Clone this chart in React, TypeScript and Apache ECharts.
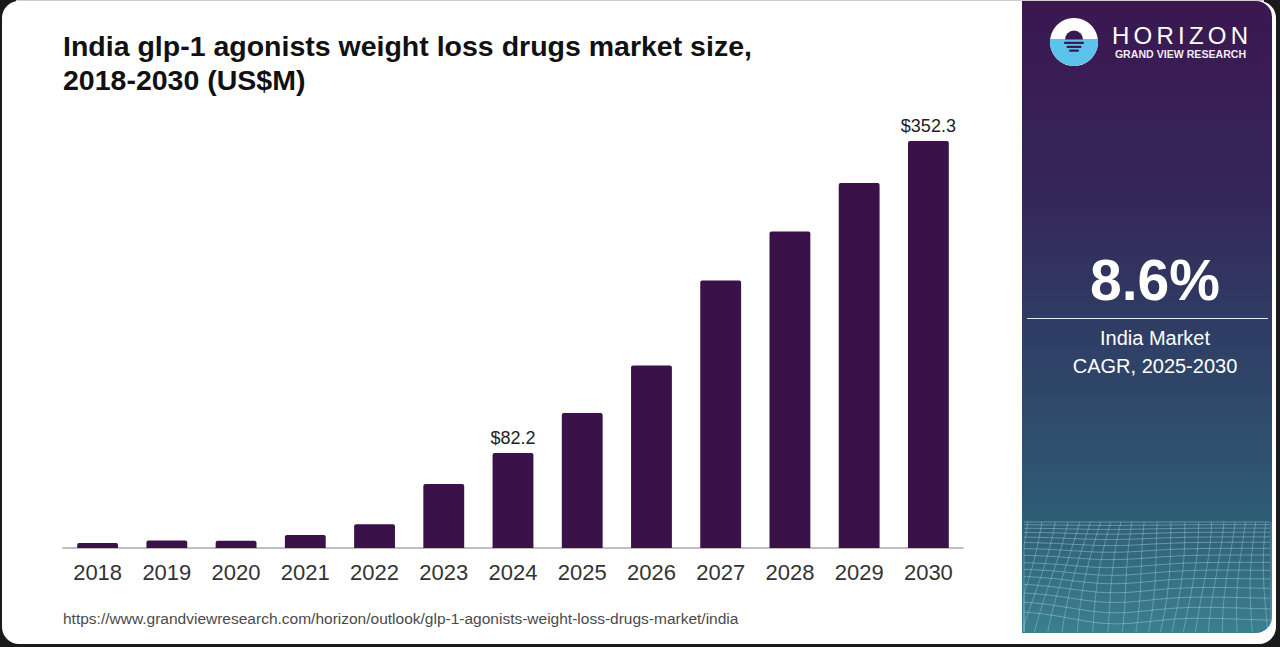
import React, { useEffect, useRef } from "react";
import * as echarts from "echarts";

const categories = ["2018", "2019", "2020", "2021", "2022", "2023", "2024", "2025", "2026", "2027", "2028", "2029", "2030"];
const values = [4.3, 6.4, 6.3, 11.3, 20.5, 55.4, 82.2, 116.8, 158.0, 231.7, 274.1, 316.0, 352.3];
const labeledYears = ["2024", "2030"];

const titleLines = ["India glp-1 agonists weight loss drugs market size,", "2018-2030 (US$M)"];
const sourceUrl = "https://www.grandviewresearch.com/horizon/outlook/glp-1-agonists-weight-loss-drugs-market/india";
const cagrValue = "8.6%";
const cagrLines = ["India Market", "CAGR, 2025-2030"];
const brandName = "HORIZON";
const brandSub = "GRAND VIEW RESEARCH";

const FONT = "'Liberation Sans', Arial, Helvetica, sans-serif";

function buildMesh(): any[] {
  const els: any[] = [];
  const x0 = 1024;
  const x1 = 1271;
  const yTop = 522;
  const yBot = 632;
  const stroke = "rgba(175,225,235,0.5)";
  for (let i = 0; i < 15; i++) {
    const base = yTop + i * 2.4 + i * i * 0.33;
    const pts: number[][] = [];
    for (let x = x0; x <= x1; x += 6) {
      const t = (x - x0) / (x1 - x0);
      const bump = Math.exp(-Math.pow((t - 0.35) / 0.22, 2)) * (i / 15) * 10;
      let y = base + bump - (i > 8 ? (1 - t) * (i - 8) * 1.5 : 0);
      y = Math.min(Math.max(y, yTop), yBot);
      pts.push([x, y]);
    }
    els.push({ type: "polyline", z: 2, shape: { points: pts }, style: { stroke, lineWidth: 0.8, fill: null }, silent: true });
  }
  for (let j = 0; j < 22; j++) {
    const xb = x0 + 4 + j * 12;
    const pts: number[][] = [];
    for (let y = yTop; y <= yBot; y += 5) {
      const s = (y - yTop) / (yBot - yTop);
      let x = xb - s * (30 - j * 1.4) + Math.sin(s * 3 + j * 0.5) * 4;
      x = Math.min(Math.max(x, x0), x1);
      pts.push([x, y]);
    }
    els.push({ type: "polyline", z: 2, shape: { points: pts }, style: { stroke, lineWidth: 0.7, fill: null }, silent: true });
  }
  return els;
}

function buildBrand(): any[] {
  const els: any[] = [];
  const widths = [0.722, 0.778, 0.722, 0.278, 0.611, 0.778, 0.722];
  const fs = 24;
  const start = 1112;
  const end = 1248;
  const total = widths.reduce((a, b) => a + b, 0) * fs;
  const gap = (end - start - total) / (widths.length - 1);
  let x = start;
  brandName.split("").forEach((ch, i) => {
    els.push({
      type: "text",
      z: 5,
      x,
      y: 35,
      style: { text: ch, fill: "#ffffff", font: `400 ${fs}px ${FONT}`, textAlign: "left", textVerticalAlign: "middle" },
    });
    x += widths[i] * fs + gap;
  });
  els.push({
    type: "text",
    z: 5,
    x: 1180.5,
    y: 54,
    style: { text: brandSub, fill: "#f0eaf4", font: `700 10.6px ${FONT}`, textAlign: "center", textVerticalAlign: "middle" },
  });
  els.push({ type: "circle", z: 5, shape: { cx: 1074, cy: 42, r: 24 }, style: { fill: "#ffffff" } });
  els.push({ type: "sector", z: 6, shape: { cx: 1074, cy: 42, r: 24, r0: 0, startAngle: -0.13, endAngle: Math.PI + 0.13 }, style: { fill: "#5cc3ea" } });
  els.push({ type: "rect", z: 6, shape: { x: 1050.3, y: 39, width: 47.4, height: 3.2 }, style: { fill: "#5cc3ea" } });
  els.push({ type: "sector", z: 7, shape: { cx: 1074, cy: 39.5, r: 9, r0: 0, startAngle: Math.PI, endAngle: Math.PI * 2 }, style: { fill: "#3a1850" } });
  els.push({ type: "rect", z: 7, shape: { x: 1064, y: 41.8, width: 20, height: 2.2, r: 1 }, style: { fill: "#3a1850" } });
  els.push({ type: "rect", z: 7, shape: { x: 1066.5, y: 45.8, width: 15, height: 2.2, r: 1 }, style: { fill: "#3a1850" } });
  els.push({ type: "rect", z: 7, shape: { x: 1069, y: 49.6, width: 10, height: 2.2, r: 1 }, style: { fill: "#3a1850" } });
  return els;
}

export default function App() {
  const ref = useRef<HTMLDivElement>(null);
  useEffect(() => {
    if (!ref.current) return;
    const chart = echarts.init(ref.current, undefined, { renderer: "svg" });
    const graphic: any[] = [
      { type: "rect", z: -10, shape: { x: 0, y: 0, width: 1280, height: 647 }, style: { fill: "#1a1a1a" }, silent: true },
      { type: "rect", z: -9, shape: { x: 16, y: 0, width: 1248, height: 3 }, style: { fill: "#cfcfcf" }, silent: true },
      { type: "rect", z: -8, shape: { x: 2, y: 1, width: 1274, height: 643, r: 17 }, style: { fill: "#ffffff" }, silent: true },
      {
        type: "rect",
        z: 1,
        shape: { x: 1022, y: 1, width: 250, height: 632, r: [0, 16, 16, 0] },
        style: {
          fill: new echarts.graphic.LinearGradient(0, 0, 0, 1, [
            { offset: 0, color: "#3b1750" },
            { offset: 0.3, color: "#352659" },
            { offset: 0.5, color: "#2f3b63" },
            { offset: 0.8, color: "#2e5a74" },
            { offset: 1, color: "#3b7f8f" },
          ]),
        },
        silent: true,
      },
      ...buildMesh(),
      ...buildBrand(),
      {
        type: "text", z: 5, x: 1155, y: 280,
        style: { text: cagrValue, fill: "#ffffff", font: `700 57px ${FONT}`, textAlign: "center", textVerticalAlign: "middle" },
      },
      { type: "line", z: 5, shape: { x1: 1027, y1: 318.5, x2: 1268, y2: 318.5 }, style: { stroke: "#e8e8f0", lineWidth: 1.2 } },
      {
        type: "text", z: 5, x: 1155, y: 338,
        style: { text: cagrLines[0], fill: "#ffffff", font: `400 20px ${FONT}`, textAlign: "center", textVerticalAlign: "middle" },
      },
      {
        type: "text", z: 5, x: 1155, y: 366,
        style: { text: cagrLines[1], fill: "#ffffff", font: `400 20px ${FONT}`, textAlign: "center", textVerticalAlign: "middle" },
      },
      {
        type: "text", z: 5, x: 63, y: 46,
        style: { text: titleLines[0], fill: "#111111", font: `700 28.5px ${FONT}`, textAlign: "left", textVerticalAlign: "middle" },
      },
      {
        type: "text", z: 5, x: 63, y: 80,
        style: { text: titleLines[1], fill: "#111111", font: `700 28.5px ${FONT}`, textAlign: "left", textVerticalAlign: "middle" },
      },
      {
        type: "text", z: 5, x: 63, y: 618,
        style: { text: sourceUrl, fill: "#4a4a4a", font: `400 15.5px ${FONT}`, textAlign: "left", textVerticalAlign: "middle" },
      },
    ];

    chart.setOption({
      animation: false,
      graphic,
      grid: { left: 63, right: 317, top: 86, bottom: 99, containLabel: false },
      xAxis: {
        type: "category",
        data: categories,
        axisLine: { lineStyle: { color: "#aaaaaa", width: 1.5 } },
        axisTick: { show: false },
        axisLabel: { color: "#333333", fontSize: 22, fontFamily: FONT, margin: 13 },
      },
      yAxis: {
        type: "value",
        min: 0,
        max: 400,
        show: false,
        splitLine: { show: false },
      },
      series: [
        {
          type: "bar",
          barWidth: "59%",
          z: 3,
          itemStyle: { color: "#3a1149", borderRadius: [2, 2, 0, 0] },
          data: values.map((v, i) => ({
            value: v,
            label: {
              show: labeledYears.includes(categories[i]),
              position: "top",
              distance: 6,
              formatter: (p: any) => `$${Number(p.value).toFixed(1)}`,
              color: "#222222",
              fontSize: 18,
              fontFamily: FONT,
            },
          })),
        },
      ],
    });
    return () => chart.dispose();
  }, []);

  return <div ref={ref} style={{ position: "absolute", left: 0, top: 0, width: 1280, height: 647 }} />;
}
